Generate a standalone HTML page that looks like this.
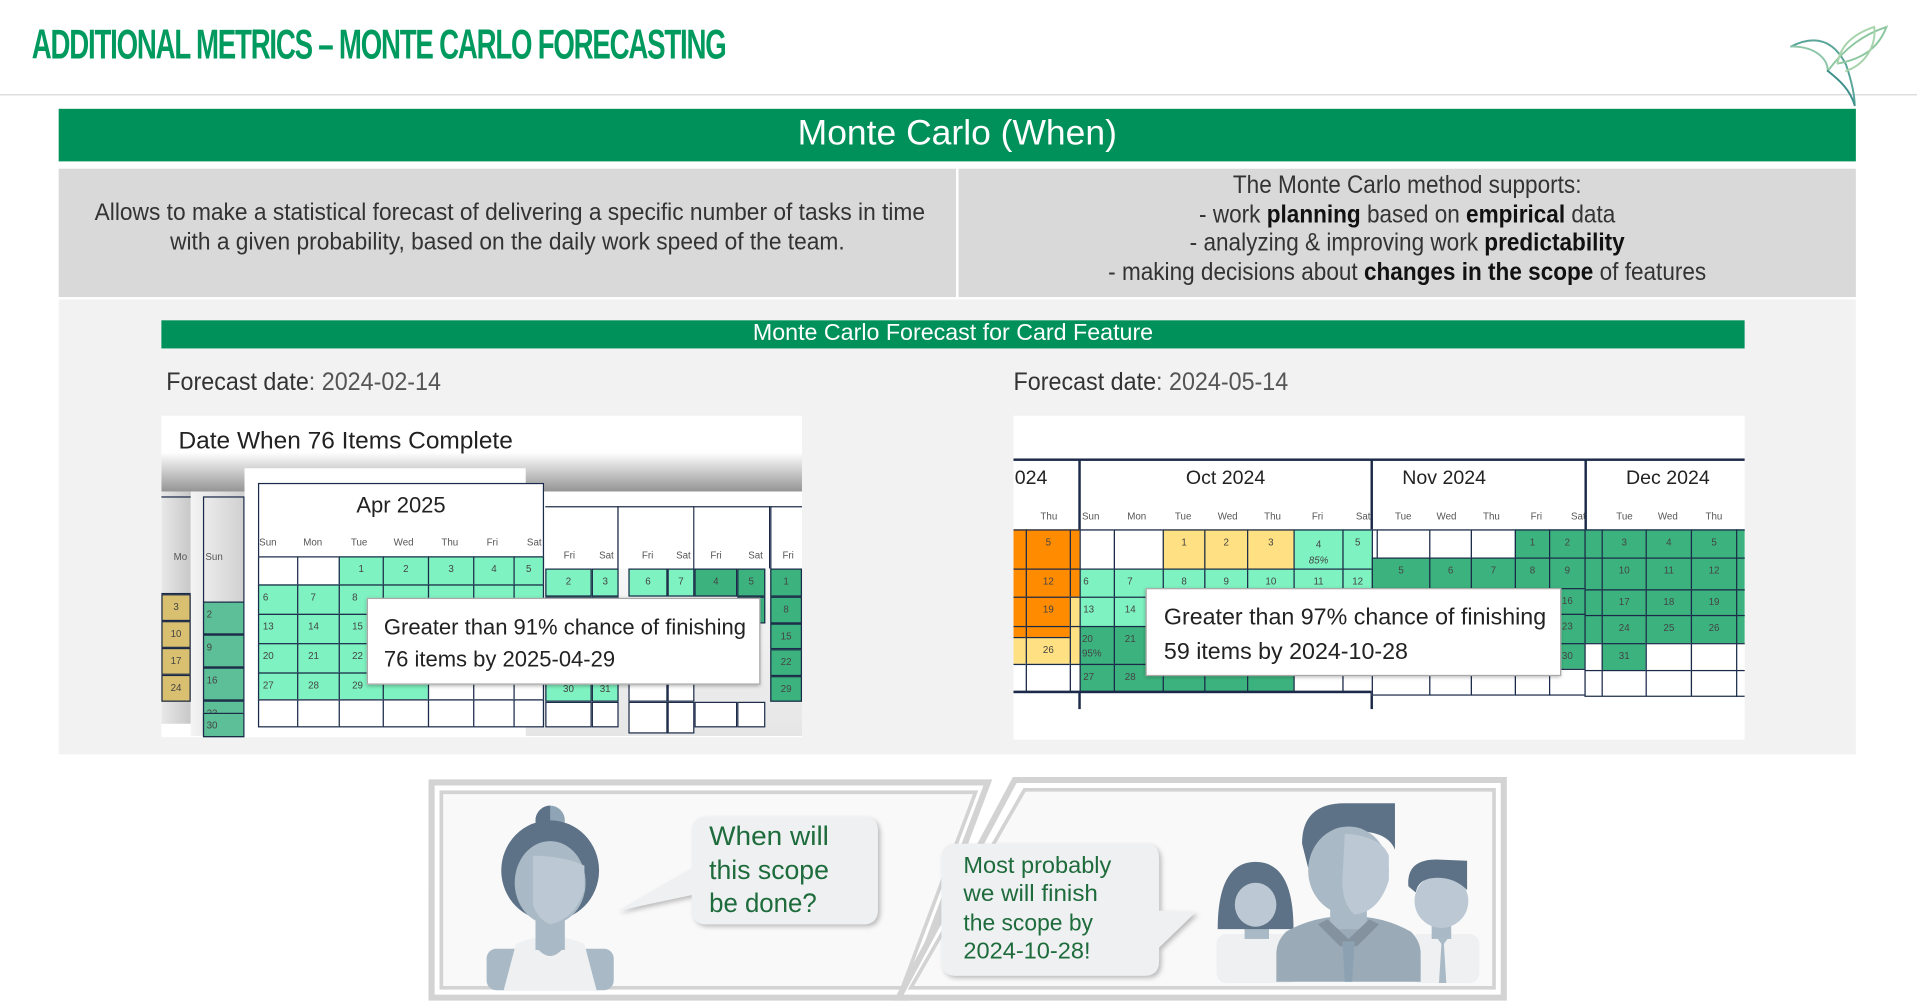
<!DOCTYPE html>
<html><head><meta charset="utf-8">
<style>
html,body{margin:0;padding:0;background:#fff;overflow:hidden}
#w{position:absolute;left:0;top:0;width:1568px;height:819px;transform:scale(1.22258);transform-origin:0 0;font-family:"Liberation Sans Narrow","Liberation Sans",sans-serif}
.a{position:absolute;box-sizing:border-box}
.c{position:absolute;box-sizing:border-box;border:1.5px solid #1b2a48;font-family:"Liberation Sans",sans-serif;font-size:8px;color:#444;text-align:center;line-height:20px}
.m{background:#7ef2c0}.d{background:#3cb37e}.y{background:#ffe082}.o{background:#ff8c00}.k{background:#d8c070}.g2{background:#5dbf98}.wh{background:#fff}
.dn{position:absolute;font-family:"Liberation Sans",sans-serif;font-size:8px;color:#555}
.tip{position:absolute;background:#fff;border:1.5px solid #a8a8a8;box-shadow:0 1px 3px rgba(0,0,0,.3);font-family:"Liberation Sans",sans-serif;color:#222;box-sizing:border-box}
.sq{white-space:nowrap;transform:scaleX(0.91);transform-origin:50% 0}
</style></head><body><div id="w">

<div class="a" style="left:26px;top:18px;font-family:'Liberation Sans',sans-serif;font-weight:bold;font-size:34px;color:#009a5e;letter-spacing:-1.5px;transform:scaleX(0.665);transform-origin:0 0;white-space:nowrap">ADDITIONAL METRICS – MONTE CARLO FORECASTING</div>
<div class="a" style="left:0;top:77px;width:1568px;height:1px;background:#d8d8d8"></div>
<svg class="a" style="left:1455px;top:8px" width="100" height="80" viewBox="0 0 100 80">
<g fill="none" stroke-width="1.6" stroke-linecap="round">
<path d="M10 30 C30 20 45 25 55 45 C60 60 62 70 62 78" stroke="#5aa59a"/>
<path d="M10 30 C30 30 40 40 40 50" stroke="#8cc5a8"/>
<path d="M40 50 C55 30 70 20 88 14 C82 30 70 40 48 44" stroke="#8dc7a0"/>
<path d="M48 44 C50 30 60 20 78 14 C80 30 70 45 55 50" stroke="#a8d4ac"/>
<path d="M40 50 C50 58 58 65 62 78" stroke="#3d8f8a"/>
</g></svg>

<div class="a" style="left:48px;top:89px;width:1470px;height:43px;background:#00915a;color:#fff;font-size:29px;text-align:center;line-height:41px">Monte Carlo (When)</div>
<div class="a" style="left:48px;top:138px;width:1470px;height:105px;background:#d9d9d9"></div>
<div class="a" style="left:782px;top:138px;width:2px;height:105px;background:#fff"></div>
<div class="a sq" style="left:52px;top:162px;width:726px;text-align:center;font-size:20px;color:#333;line-height:24px;transform:scaleX(0.93)">Allows to make a statistical forecast of delivering a specific number of tasks in time<br>with a given probability, based on the daily work speed of the team.</div>
<div class="a sq" style="left:790px;top:140px;width:722px;text-align:center;font-size:20.5px;color:#333;line-height:23.5px;transform:scaleX(0.9)">The Monte Carlo method supports:<br>- work <b style="color:#111">planning</b> based on <b style="color:#111">empirical</b> data<br>- analyzing &amp; improving work <b style="color:#111">predictability</b><br>- making decisions about <b style="color:#111">changes in the scope</b> of features</div>

<div class="a" style="left:48px;top:245px;width:1470px;height:372px;background:#f2f2f2"></div>
<div class="a" style="left:132px;top:262px;width:1295px;height:23px;background:#00915a;color:#fff;font-size:19px;text-align:center;line-height:22px">Monte Carlo Forecast for Card Feature</div>
<div class="a" style="left:136px;top:301px;font-size:20.5px;color:#555;white-space:nowrap;transform:scaleX(0.93);transform-origin:0 0"><span style="color:#333">Forecast date</span>: 2024-02-14</div>
<div class="a" style="left:829px;top:301px;font-size:20.5px;color:#555;white-space:nowrap;transform:scaleX(0.93);transform-origin:0 0"><span style="color:#333">Forecast date</span>: 2024-05-14</div>

<!-- LEFT CHART -->
<div class="a" style="left:132px;top:340px;width:524px;height:263px;background:#fff;overflow:hidden">
 <div class="a" style="left:0;top:30px;width:524px;height:35px;background:linear-gradient(#fff,#8a8a8a)"></div>
 <div class="a" style="left:14px;top:10px;font-family:'Liberation Sans',sans-serif;font-size:20px;color:#222">Date When 76 Items Complete</div>
 <div class="a" style="left:0;top:62px;width:24px;height:190px;background:linear-gradient(90deg,#e8e8e8,#c8c8c8)"></div>
 <div class="a" style="left:24px;top:62px;width:44px;height:200px;background:linear-gradient(90deg,#f4f4f4,#d0d0d0)"></div>
 <div class="a" style="left:290px;top:62px;width:234px;height:200px;background:linear-gradient(#fff,#e6e6e6)"></div>
</div>
<div class="dn" style="left:142px;top:451px">Mo</div><div class="dn" style="left:168px;top:451px">Sun</div>
<div class="c k" style="left:132px;top:486px;width:24px;height:22px">3</div>
<div class="c k" style="left:132px;top:508px;width:24px;height:22px">10</div>
<div class="c k" style="left:132px;top:530px;width:24px;height:22px">17</div>
<div class="c k" style="left:132px;top:552px;width:24px;height:22px">24</div>
<div class="c" style="left:132px;top:406px;width:24px;height:80px;border-width:1.5px 0;background:transparent"></div>
<div class="c wh" style="left:166px;top:406px;width:34px;height:197px;background:transparent"></div>
<div class="c g2" style="left:166px;top:492px;width:34px;height:27px;text-align:left;padding-left:2px">2</div>
<div class="c g2" style="left:166px;top:519px;width:34px;height:27px;text-align:left;padding-left:2px">9</div>
<div class="c g2" style="left:166px;top:546px;width:34px;height:27px;text-align:left;padding-left:2px">16</div>
<div class="c g2" style="left:166px;top:573px;width:34px;height:27px;text-align:left;padding-left:2px">23</div>
<div class="c g2" style="left:166px;top:583px;width:34px;height:20px;text-align:left;padding-left:2px">30</div>

<div class="c wh" style="left:446px;top:414px;width:60px;height:51px;border-width:1.5px 1.5px 0 0"></div>
<div class="c wh" style="left:505px;top:414px;width:63px;height:51px;border-width:1.5px 1.5px 0 1.5px"></div>
<div class="c wh" style="left:568px;top:414px;width:62px;height:51px;border-width:1.5px 1.5px 0 0"></div>
<div class="c wh" style="left:630px;top:414px;width:26px;height:51px;border-width:1.5px 0 0 1.5px"></div>
<div class="dn" style="left:461px;top:450px">Fri</div><div class="dn" style="left:490px;top:450px">Sat</div>
<div class="dn" style="left:525px;top:450px">Fri</div><div class="dn" style="left:553px;top:450px">Sat</div>
<div class="dn" style="left:581px;top:450px">Fri</div><div class="dn" style="left:612px;top:450px">Sat</div>
<div class="dn" style="left:640px;top:450px">Fri</div>
<div class="c m" style="left:446px;top:465px;width:38px;height:23px">2</div><div class="c m" style="left:484px;top:465px;width:22px;height:23px">3</div>
<div class="c m" style="left:514px;top:465px;width:32px;height:23px">6</div><div class="c m" style="left:546px;top:465px;width:22px;height:23px">7</div>
<div class="c d" style="left:568px;top:465px;width:35px;height:23px">4</div><div class="c d" style="left:603px;top:465px;width:23px;height:23px">5</div>
<div class="c d" style="left:630px;top:465px;width:26px;height:23px">1</div>
<div class="c m" style="left:446px;top:488px;width:38px;height:22px"></div><div class="c m" style="left:484px;top:488px;width:22px;height:22px"></div>
<div class="c d" style="left:603px;top:488px;width:23px;height:22px"></div>
<div class="c d" style="left:630px;top:488px;width:26px;height:22px">8</div>
<div class="c m" style="left:446px;top:510px;width:38px;height:21px"></div><div class="c m" style="left:484px;top:510px;width:22px;height:21px"></div>
<div class="c d" style="left:630px;top:510px;width:26px;height:21px">15</div>
<div class="c m" style="left:446px;top:531px;width:38px;height:22px"></div><div class="c m" style="left:484px;top:531px;width:22px;height:22px"></div>
<div class="c d" style="left:630px;top:531px;width:26px;height:22px">22</div>
<div class="c m" style="left:446px;top:553px;width:38px;height:21px">30</div><div class="c m" style="left:484px;top:553px;width:22px;height:21px">31</div>
<div class="c wh" style="left:514px;top:553px;width:32px;height:21px"></div><div class="c wh" style="left:546px;top:553px;width:22px;height:21px"></div>
<div class="c d" style="left:630px;top:553px;width:26px;height:21px">29</div>
<div class="c wh" style="left:446px;top:574px;width:38px;height:21px"></div><div class="c wh" style="left:484px;top:574px;width:22px;height:21px"></div>
<div class="c wh" style="left:514px;top:574px;width:32px;height:26px"></div><div class="c wh" style="left:546px;top:574px;width:22px;height:26px"></div>
<div class="c wh" style="left:568px;top:574px;width:35px;height:21px"></div><div class="c wh" style="left:603px;top:574px;width:23px;height:21px"></div>

<div class="a" style="left:200px;top:383px;width:230px;height:220px;background:#fff"></div>
<div class="a" style="left:211px;top:395px;width:234px;height:200px;background:#fff;border:1.5px solid #1b2a48"></div>
<div class="a" style="left:211px;top:403px;width:234px;text-align:center;font-family:'Liberation Sans',sans-serif;font-size:18px;color:#222">Apr 2025</div>
<div class="dn" style="left:212px;top:439px">Sun</div><div class="dn" style="left:248px;top:439px">Mon</div><div class="dn" style="left:287px;top:439px">Tue</div><div class="dn" style="left:322px;top:439px">Wed</div><div class="dn" style="left:361px;top:439px">Thu</div><div class="dn" style="left:398px;top:439px">Fri</div><div class="dn" style="left:431px;top:439px">Sat</div>
<div class="c wh" style="left:211px;top:455px;width:33px;height:24px"></div><div class="c wh" style="left:243px;top:455px;width:35px;height:24px"></div>
<div class="c m" style="left:277px;top:455px;width:37px;height:24px">1</div><div class="c m" style="left:313px;top:455px;width:38px;height:24px">2</div><div class="c m" style="left:350px;top:455px;width:38px;height:24px">3</div><div class="c m" style="left:387px;top:455px;width:34px;height:24px">4</div><div class="c m" style="left:420px;top:455px;width:25px;height:24px">5</div>
<div class="c m" style="left:211px;top:478px;width:33px;height:25px;text-align:left;padding-left:3px">6</div><div class="c m" style="left:243px;top:478px;width:35px;height:25px;text-align:left;padding-left:10px">7</div><div class="c m" style="left:277px;top:478px;width:37px;height:25px;text-align:left;padding-left:10px">8</div><div class="c m" style="left:313px;top:478px;width:38px;height:25px"></div><div class="c m" style="left:350px;top:478px;width:38px;height:25px"></div><div class="c m" style="left:387px;top:478px;width:34px;height:25px"></div><div class="c m" style="left:420px;top:478px;width:25px;height:25px"></div>
<div class="c m" style="left:211px;top:502px;width:33px;height:25px;text-align:left;padding-left:3px">13</div><div class="c m" style="left:243px;top:502px;width:35px;height:25px;text-align:left;padding-left:8px">14</div><div class="c m" style="left:277px;top:502px;width:37px;height:25px;text-align:left;padding-left:10px">15</div>
<div class="c m" style="left:211px;top:526px;width:33px;height:25px;text-align:left;padding-left:3px">20</div><div class="c m" style="left:243px;top:526px;width:35px;height:25px;text-align:left;padding-left:8px">21</div><div class="c m" style="left:277px;top:526px;width:37px;height:25px;text-align:left;padding-left:10px">22</div>
<div class="c m" style="left:211px;top:550px;width:33px;height:23px;text-align:left;padding-left:3px">27</div><div class="c m" style="left:243px;top:550px;width:35px;height:23px;text-align:left;padding-left:8px">28</div><div class="c m" style="left:277px;top:550px;width:37px;height:23px;text-align:left;padding-left:10px">29</div><div class="c m" style="left:313px;top:550px;width:38px;height:23px"></div><div class="c wh" style="left:350px;top:550px;width:38px;height:23px"></div><div class="c wh" style="left:387px;top:550px;width:34px;height:23px"></div><div class="c wh" style="left:420px;top:550px;width:25px;height:23px"></div>
<div class="c wh" style="left:211px;top:572px;width:33px;height:23px"></div><div class="c wh" style="left:243px;top:572px;width:35px;height:23px"></div><div class="c wh" style="left:277px;top:572px;width:37px;height:23px"></div><div class="c wh" style="left:313px;top:572px;width:38px;height:23px"></div><div class="c wh" style="left:350px;top:572px;width:38px;height:23px"></div><div class="c wh" style="left:387px;top:572px;width:34px;height:23px"></div><div class="c wh" style="left:420px;top:572px;width:25px;height:23px"></div>
<div class="tip" style="left:300px;top:489px;width:322px;height:71px;padding:10px 0 0 13px;font-size:18px;line-height:26px">Greater than 91% chance of finishing<br>76 items by 2025-04-29</div>

<!-- RIGHT CHART -->
<div class="a" style="left:829px;top:340px;width:598px;height:265px;background:#fff"></div>
<div class="a" style="left:829px;top:375px;width:598px;height:2px;background:#1b2a48"></div>
<div class="a" style="left:882px;top:376px;width:1.5px;height:204px;background:#1b2a48"></div>
<div class="a" style="left:1121px;top:376px;width:1.5px;height:204px;background:#1b2a48"></div>
<div class="a" style="left:1296px;top:376px;width:1.5px;height:194px;background:#1b2a48"></div>
<div class="a" style="left:830px;top:383px;font-family:'Liberation Sans',sans-serif;font-size:16px;color:#222">024</div>
<div class="a" style="left:970px;top:383px;font-family:'Liberation Sans',sans-serif;font-size:16px;color:#222">Oct 2024</div>
<div class="a" style="left:1147px;top:383px;font-family:'Liberation Sans',sans-serif;font-size:16px;color:#222">Nov 2024</div>
<div class="a" style="left:1330px;top:383px;font-family:'Liberation Sans',sans-serif;font-size:16px;color:#222">Dec 2024</div>
<div class="dn" style="left:851px;top:418px">Thu</div><div class="dn" style="left:885px;top:418px">Sun</div><div class="dn" style="left:922px;top:418px">Mon</div><div class="dn" style="left:961px;top:418px">Tue</div><div class="dn" style="left:996px;top:418px">Wed</div><div class="dn" style="left:1034px;top:418px">Thu</div><div class="dn" style="left:1073px;top:418px">Fri</div><div class="dn" style="left:1109px;top:418px">Sat</div><div class="dn" style="left:1141px;top:418px">Tue</div><div class="dn" style="left:1175px;top:418px">Wed</div><div class="dn" style="left:1213px;top:418px">Thu</div><div class="dn" style="left:1252px;top:418px">Fri</div><div class="dn" style="left:1285px;top:418px">Sat</div><div class="dn" style="left:1322px;top:418px">Tue</div><div class="dn" style="left:1356px;top:418px">Wed</div><div class="dn" style="left:1395px;top:418px">Thu</div>
<div class="a" style="left:829px;top:433px;width:598px;height:1.5px;background:#1b2a48"></div>
<div class="c o" style="left:829px;top:433px;width:11px;height:33px;border-left:0"></div><div class="c o" style="left:839px;top:433px;width:37px;height:33px">5</div><div class="c o" style="left:875px;top:433px;width:9px;height:33px"></div>
<div class="c o" style="left:829px;top:465px;width:11px;height:24px;border-left:0"></div><div class="c o" style="left:839px;top:465px;width:37px;height:24px">12</div><div class="c o" style="left:875px;top:465px;width:9px;height:24px"></div>
<div class="c o" style="left:829px;top:488px;width:11px;height:25px;border-left:0"></div><div class="c o" style="left:839px;top:488px;width:37px;height:25px">19</div><div class="c y" style="left:875px;top:488px;width:9px;height:25px"></div>
<div class="c o" style="left:829px;top:512px;width:11px;height:10px;border-left:0"></div><div class="c o" style="left:839px;top:512px;width:37px;height:10px"></div>
<div class="c y" style="left:829px;top:521px;width:11px;height:23px;border-left:0"></div><div class="c y" style="left:839px;top:521px;width:37px;height:23px">26</div><div class="c y" style="left:875px;top:512px;width:9px;height:32px"></div>
<div class="c wh" style="left:829px;top:543px;width:11px;height:23px;border-left:0"></div><div class="c wh" style="left:839px;top:543px;width:37px;height:23px"></div><div class="c wh" style="left:875px;top:543px;width:9px;height:23px"></div>
<div class="c wh" style="left:883px;top:433px;width:29px;height:33px"></div><div class="c wh" style="left:911px;top:433px;width:41px;height:33px"></div>
<div class="c y" style="left:951px;top:433px;width:35px;height:33px">1</div><div class="c y" style="left:985px;top:433px;width:36px;height:33px">2</div><div class="c y" style="left:1020px;top:433px;width:39px;height:33px">3</div>
<div class="c m" style="left:1058px;top:433px;width:41px;height:33px;line-height:13px;padding-top:5px">4<br><i>85%</i></div><div class="c m" style="left:1098px;top:433px;width:25px;height:33px">5</div>
<div class="c m" style="left:883px;top:465px;width:29px;height:24px;text-align:left;padding-left:2px">6</div><div class="c m" style="left:911px;top:465px;width:41px;height:24px;text-align:left;padding-left:10px">7</div><div class="c m" style="left:951px;top:465px;width:35px;height:24px">8</div><div class="c m" style="left:985px;top:465px;width:36px;height:24px">9</div><div class="c m" style="left:1020px;top:465px;width:39px;height:24px">10</div><div class="c m" style="left:1058px;top:465px;width:41px;height:24px">11</div><div class="c m" style="left:1098px;top:465px;width:25px;height:24px">12</div>
<div class="c m" style="left:883px;top:488px;width:29px;height:25px;text-align:left;padding-left:2px">13</div><div class="c m" style="left:911px;top:488px;width:41px;height:25px;text-align:left;padding-left:8px">14</div>
<div class="c d" style="left:883px;top:512px;width:29px;height:32px;text-align:left;padding-left:1px;line-height:12px;padding-top:4px">20<br>95%</div><div class="c d" style="left:911px;top:512px;width:41px;height:32px;text-align:left;padding-left:8px">21</div>
<div class="c d" style="left:883px;top:543px;width:29px;height:23px;text-align:left;padding-left:2px">27</div><div class="c d" style="left:911px;top:543px;width:41px;height:23px;text-align:left;padding-left:8px">28</div><div class="c d" style="left:951px;top:543px;width:35px;height:23px"></div><div class="c d" style="left:985px;top:543px;width:36px;height:23px"></div><div class="c d" style="left:1020px;top:543px;width:39px;height:23px"></div><div class="c wh" style="left:1058px;top:543px;width:41px;height:23px"></div><div class="c wh" style="left:1098px;top:543px;width:25px;height:23px"></div>
<div class="a" style="left:829px;top:565px;width:293px;height:1.5px;background:#1b2a48"></div>
<div class="c wh" style="left:1122px;top:433px;width:5px;height:24px"></div>
<div class="c wh" style="left:1126px;top:433px;width:44px;height:24px"></div><div class="c wh" style="left:1169px;top:433px;width:35px;height:24px"></div><div class="c wh" style="left:1203px;top:433px;width:37px;height:24px"></div>
<div class="c d" style="left:1239px;top:433px;width:29px;height:24px">1</div><div class="c d" style="left:1267px;top:433px;width:30px;height:24px">2</div>
<div class="c d" style="left:1122px;top:456px;width:48px;height:26px">5</div><div class="c d" style="left:1169px;top:456px;width:35px;height:26px">6</div><div class="c d" style="left:1203px;top:456px;width:37px;height:26px">7</div><div class="c d" style="left:1239px;top:456px;width:29px;height:26px">8</div><div class="c d" style="left:1267px;top:456px;width:30px;height:26px">9</div>
<div class="c d" style="left:1267px;top:481px;width:30px;height:22px">16</div>
<div class="c d" style="left:1267px;top:502px;width:30px;height:25px">23</div>
<div class="c d" style="left:1267px;top:526px;width:30px;height:22px">30</div>
<div class="c wh" style="left:1122px;top:547px;width:48px;height:22px"></div><div class="c wh" style="left:1169px;top:547px;width:35px;height:22px"></div><div class="c wh" style="left:1203px;top:547px;width:37px;height:22px"></div><div class="c wh" style="left:1239px;top:547px;width:29px;height:22px"></div><div class="c wh" style="left:1267px;top:547px;width:30px;height:22px"></div>
<div class="c d" style="left:1296px;top:433px;width:15px;height:24px"></div><div class="c d" style="left:1310px;top:433px;width:37px;height:24px">3</div><div class="c d" style="left:1346px;top:433px;width:38px;height:24px">4</div><div class="c d" style="left:1383px;top:433px;width:38px;height:24px">5</div><div class="c d" style="left:1420px;top:433px;width:7px;height:24px;border-right:0"></div>
<div class="c d" style="left:1296px;top:456px;width:15px;height:27px"></div><div class="c d" style="left:1310px;top:456px;width:37px;height:27px">10</div><div class="c d" style="left:1346px;top:456px;width:38px;height:27px">11</div><div class="c d" style="left:1383px;top:456px;width:38px;height:27px">12</div><div class="c d" style="left:1420px;top:456px;width:7px;height:27px;border-right:0"></div>
<div class="c d" style="left:1296px;top:482px;width:15px;height:22px"></div><div class="c d" style="left:1310px;top:482px;width:37px;height:22px">17</div><div class="c d" style="left:1346px;top:482px;width:38px;height:22px">18</div><div class="c d" style="left:1383px;top:482px;width:38px;height:22px">19</div><div class="c d" style="left:1420px;top:482px;width:7px;height:22px;border-right:0"></div>
<div class="c d" style="left:1296px;top:503px;width:15px;height:24px"></div><div class="c d" style="left:1310px;top:503px;width:37px;height:24px">24</div><div class="c d" style="left:1346px;top:503px;width:38px;height:24px">25</div><div class="c d" style="left:1383px;top:503px;width:38px;height:24px">26</div><div class="c d" style="left:1420px;top:503px;width:7px;height:24px;border-right:0"></div>
<div class="c wh" style="left:1296px;top:526px;width:15px;height:23px"></div><div class="c d" style="left:1310px;top:526px;width:37px;height:23px">31</div><div class="c wh" style="left:1346px;top:526px;width:38px;height:23px"></div><div class="c wh" style="left:1383px;top:526px;width:38px;height:23px"></div><div class="c wh" style="left:1420px;top:526px;width:7px;height:23px;border-right:0"></div>
<div class="c wh" style="left:1296px;top:548px;width:15px;height:22px"></div><div class="c wh" style="left:1310px;top:548px;width:37px;height:22px"></div><div class="c wh" style="left:1346px;top:548px;width:38px;height:22px"></div><div class="c wh" style="left:1383px;top:548px;width:38px;height:22px"></div><div class="c wh" style="left:1420px;top:548px;width:7px;height:22px;border-right:0"></div>
<div class="tip" style="left:937px;top:481px;width:340px;height:72px;padding:10px 0 0 14px;font-size:19px;line-height:28px">Greater than 97% chance of finishing<br>59 items by 2024-10-28</div>

<!-- COMIC -->
<svg class="a" style="left:0;top:0" width="1568" height="819" viewBox="0 0 1568 819">
<defs><filter id="sh" x="-10%" y="-10%" width="130%" height="130%"><feDropShadow dx="2" dy="2" stdDeviation="2" flood-color="#000" flood-opacity="0.25"/></filter></defs>
<polygon points="353,640 808,640 742,816 353,816" fill="#fff" stroke="#d3d3d3" stroke-width="5"/>
<polygon points="361,648 798,648 738,808 361,808" fill="#f9f9f9" stroke="#d3d3d3" stroke-width="3"/>
<polygon points="830,638 1230,638 1230,816 735,816" fill="#fff" stroke="#d3d3d3" stroke-width="5"/>
<polygon points="838,646 1222,646 1222,808 745,808" fill="#f9f9f9" stroke="#d3d3d3" stroke-width="3"/>
<circle cx="450" cy="671" r="12" fill="#8fa4b5"/><path d="M438 671 a12 12 0 0 1 12 -12 v24 a12 12 0 0 1 -12 -12z" fill="#5d7287"/>
<rect x="398" y="776" width="104" height="34" rx="8" fill="#a9bac6"/>
<path d="M422 772 Q450 760 478 772 L488 810 L412 810Z" fill="#eef0f2"/>
<rect x="438" y="745" width="24" height="32" fill="#a9bac6"/>
<path d="M438 774 Q450 790 462 774" fill="#a9bac6"/>
<ellipse cx="450" cy="712" rx="40" ry="41" fill="#5d7287"/>
<ellipse cx="450" cy="722" rx="29" ry="34" fill="#a9bac6"/>
<path d="M436 700 Q460 700 478 708 L478 728 Q470 752 450 756 Q440 752 436 740Z" fill="#bcc9d4"/>
<path d="M578 668 H706 Q718 668 718 680 V744 Q718 756 706 756 H578 Q566 756 566 744 V732 L505 745 L566 710 V680 Q566 668 578 668Z" fill="#eef0f2" filter="url(#sh)"/>
<path d="M782 690 H936 Q948 690 948 702 V745 L978 746 L948 775 V786 Q948 798 936 798 H782 Q770 798 770 786 V702 Q770 690 782 690Z" fill="#eef0f2" filter="url(#sh)"/>
<rect x="995" y="764" width="68" height="40" rx="8" fill="#eef0f2"/>
<rect x="1018" y="748" width="20" height="20" fill="#a9bac6"/>
<path d="M996 760 Q996 705 1027 705 Q1058 705 1058 760 Z" fill="#5d7287"/>
<ellipse cx="1027" cy="740" rx="17" ry="18" fill="#bcc9d4"/>
<rect x="1153" y="764" width="57" height="40" rx="8" fill="#eef0f2"/>
<rect x="1171" y="750" width="16" height="18" fill="#a9bac6"/>
<path d="M1176 768 l3 4 -2 32 h6 l-2 -32 3 -4z" fill="#a9bac6"/>
<ellipse cx="1179" cy="737" rx="22" ry="22" fill="#bcc9d4"/>
<path d="M1152 725 Q1150 703 1175 703 L1200 704 L1200 728 Q1190 718 1176 718 Q1160 718 1158 730Z" fill="#5d7287"/>
<path d="M1052 762 Q1070 752 1090 750 L1116 750 Q1136 752 1154 762 Q1162 770 1162 780 V803 H1044 V780 Q1044 770 1052 762Z" fill="#9aaab7"/>
<rect x="1088" y="738" width="30" height="22" fill="#a9bac6"/>
<path d="M1086 752 L1103 768 L1120 752 L1128 756 L1110 774 L1096 774 L1078 756Z" fill="#84929f"/>
<path d="M1098 770 h10 l-2 33 h-6z" fill="#8ca2b2"/>
<path d="M1065 690 Q1065 657 1100 657 L1141 657 L1141 695 Q1135 680 1110 680 Q1075 680 1070 710Z" fill="#5d7287"/>
<ellipse cx="1103" cy="712" rx="33" ry="36" fill="#a9bac6"/>
<path d="M1100 682 Q1130 684 1136 700 L1136 720 Q1128 746 1108 748 Q1098 740 1098 720Z" fill="#bcc9d4"/>
<g font-family="Liberation Sans, sans-serif" fill="#1e6b3c">
<text x="580" y="691" font-size="22" textLength="98" lengthAdjust="spacingAndGlyphs">When will</text>
<text x="580" y="719" font-size="22" textLength="98" lengthAdjust="spacingAndGlyphs">this scope</text>
<text x="580" y="746" font-size="22" textLength="88" lengthAdjust="spacingAndGlyphs">be done?</text>
<text x="788" y="714" font-size="19" textLength="121" lengthAdjust="spacingAndGlyphs">Most probably</text>
<text x="788" y="737" font-size="19" textLength="110" lengthAdjust="spacingAndGlyphs">we will finish</text>
<text x="788" y="761" font-size="19" textLength="106" lengthAdjust="spacingAndGlyphs">the scope by</text>
<text x="788" y="784" font-size="19" textLength="104" lengthAdjust="spacingAndGlyphs">2024-10-28!</text>
</g>
</svg>
</div></body></html>
